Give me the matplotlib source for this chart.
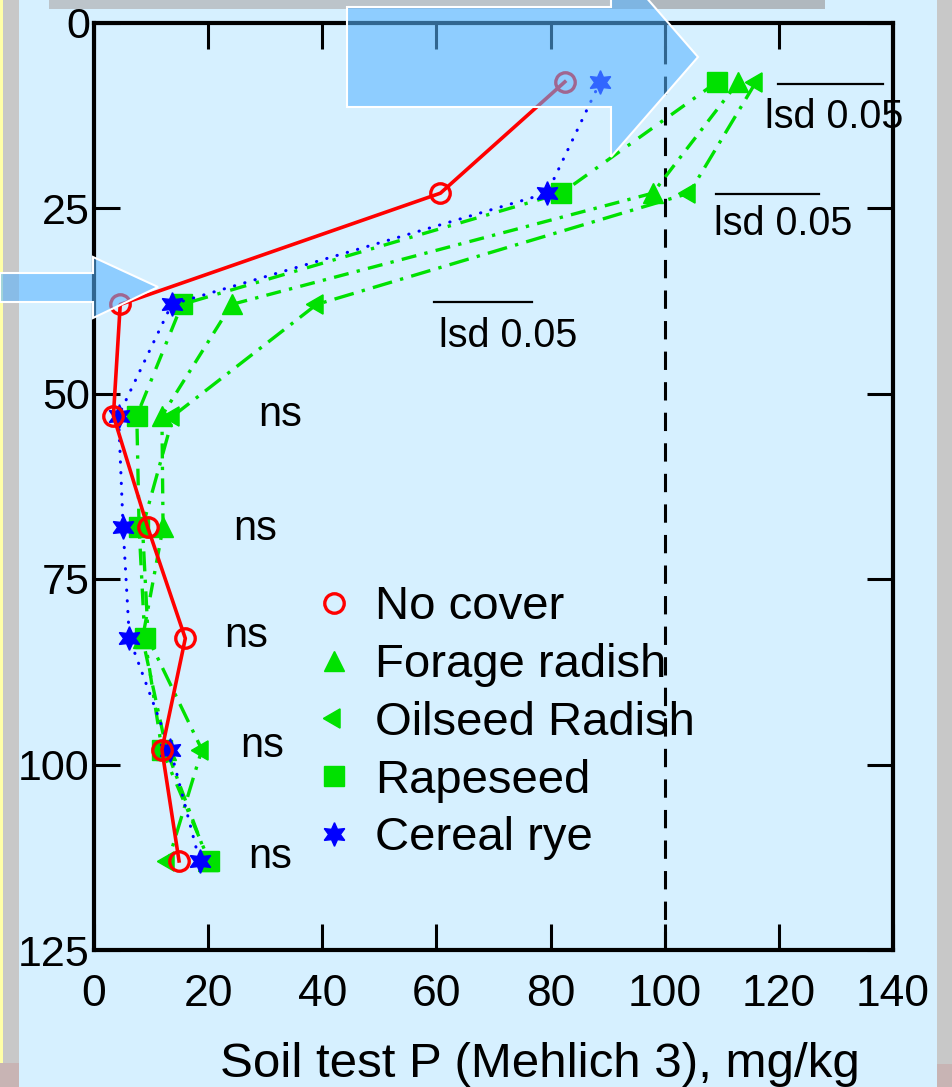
import matplotlib
matplotlib.use("Agg")
import matplotlib.pyplot as plt
from matplotlib.lines import Line2D
from matplotlib.patches import Polygon, Rectangle

# depth (cm) vs soil test P for each cover crop
depth = [8, 23, 38, 53, 68, 83, 98, 113]
no_cover = [82.5, 60.7, 4.6, 3.4, 9.4, 16.0, 11.9, 14.9]
forage_radish = [112.9, 97.9, 24.1, 11.9, 12.1, 8.5, 12.7, 20.0]
oilseed_radish = [116.0, 104.3, 39.0, 13.9, 8.5, 9.5, 18.9, 13.0]
rapeseed = [109.2, 81.9, 15.4, 7.5, 7.9, 8.9, 11.9, 20.2]
cereal_rye = [88.7, 79.4, 13.6, 4.3, 5.1, 6.2, 13.4, 18.5]

labels = ["No cover", "Forage radish", "Oilseed Radish", "Rapeseed", "Cereal rye"]

# lsd bars: (x start, x end, depth) and label positions
lsd_x0 = [119.9, 108.9, 59.5]
lsd_x1 = [138.2, 127.0, 76.7]
lsd_y = [8.3, 23.1, 37.7]
lsd_text_x = [129.7, 120.8, 72.5]
lsd_text_y = [14.2, 28.6, 43.7]

ns_x = [32.6, 28.2, 26.6, 29.4, 30.8]
ns_y = [54.4, 69.8, 84.2, 99.0, 114.0]

xticks = [0, 20, 40, 60, 80, 100, 120, 140]
yticks = [0, 25, 50, 75, 100, 125]

W, H = 952, 1087
bg = "#D6F0FF"
green = "#00E100"
plt.rcParams["font.family"] = ["Liberation Sans", "DejaVu Sans"]

fig = plt.figure(figsize=(W / 100, H / 100), dpi=100, facecolor=bg)
ax = fig.add_axes([94 / W, 1 - 950 / H, 799 / W, 927.5 / H])
ax.set_facecolor("none")


def fx(x):
    return x / W


def fy(y):
    return 1 - y / H


# slide decorations around the chart
for x0, x1, y0, y1, c in [(0, 3, 0, 1087, "#FFFFA8"), (3, 19, 0, 1087, "#C8C8C8"),
                          (0, 19, 1063, 1087, "#C8B4B4"), (937, 952, 0, 1087, "#C8C8C8"),
                          (937, 952, 1064, 1087, "#C8B4B4"),
                          (49, 610, 0, 9, "#BCC4CA"), (610, 825, 0, 9, "#B0B8BE")]:
    fig.add_artist(Rectangle((fx(x0), fy(y1)), fx(x1) - fx(x0), fy(y0) - fy(y1),
                             transform=fig.transFigure, color=c, lw=0, zorder=-1))

big_arrow = [(347, 7), (611, 7), (611, -43), (698, 57), (611, 157), (611, 107), (347, 107)]
small_arrow = [(0, 273), (93, 273), (93, 257), (158, 287), (93, 318), (93, 302), (0, 302)]
for pts in (big_arrow, small_arrow):
    fig.add_artist(Polygon([(fx(a), fy(b)) for a, b in pts], closed=True,
                           transform=fig.transFigure, facecolor=(88 / 255, 180 / 255, 1.0, 0.57),
                           edgecolor="white", lw=1.5, zorder=5))

# series
ax.plot(oilseed_radish, depth, color=green, lw=2.4, ls=(0, (6, 2.5, 1, 2.5)),
        marker=(3, 0, 90), ms=16, mec=green, mfc=green, zorder=3)
ax.plot(forage_radish, depth, color=green, lw=2.4, ls=(0, (4.5, 2.5, 1, 2.5)),
        marker="^", ms=15, mec=green, mfc=green, zorder=3)
ax.plot(rapeseed, depth, color=green, lw=2.4, ls=(0, (5, 3, 1, 3)),
        marker="s", ms=14, mec=green, mfc=green, zorder=3)
ax.plot(cereal_rye, depth, color="#0000FF", lw=2.2, ls=(0, (0.1, 3.4)),
        dash_capstyle="round", marker=(6, 1, 0), ms=17, mec="#0000FF", mfc="#0000FF", zorder=4)
ax.plot(no_cover, depth, color="#FF0000", lw=2.6, marker="o", ms=14, mfc="none",
        mec="#FF0000", mew=2.4, zorder=4)

ax.axvline(100, color="black", lw=2.2, ls=(0, (6, 4)), zorder=2)

for x0, x1, y in zip(lsd_x0, lsd_x1, lsd_y):
    ax.plot([x0, x1], [y, y], color="black", lw=1.6, zorder=3)
for x, y in zip(lsd_text_x, lsd_text_y):
    ax.text(x, y, "lsd 0.05", fontsize=28.5, ha="center", va="baseline", zorder=6)
for x, y in zip(ns_x, ns_y):
    ax.text(x, y, "ns", fontsize=30, ha="center", va="baseline")

ax.set_xlim(0, 140)
ax.set_ylim(125, 0)
ax.set_xticks(xticks)
ax.set_yticks(yticks)
ax.set_xticklabels([str(t) for t in xticks], fontsize=32)
ax.set_yticklabels([str(t) for t in yticks], fontsize=31)
ax.tick_params(direction="in", length=19, width=2.2, top=True, right=True)
ax.tick_params(axis="x", pad=17)
ax.tick_params(axis="y", pad=3)
for s in ax.spines.values():
    s.set_linewidth(3)

handles = [
    Line2D([], [], ls="none", marker="o", ms=14, mfc="none", mec="#FF0000", mew=2.4),
    Line2D([], [], ls="none", marker="^", ms=15, color=green),
    Line2D([], [], ls="none", marker=(3, 0, 90), ms=16, color=green),
    Line2D([], [], ls="none", marker="s", ms=14, color=green),
    Line2D([], [], ls="none", marker=(6, 1, 0), ms=17, color="#0000FF"),
]
ax.legend(handles, labels, loc="upper left", bbox_to_anchor=(0.271, 0.393), frameon=False,
          fontsize=34, handlelength=1.0, handletextpad=0.36, labelspacing=0.29,
          borderpad=0, borderaxespad=0)

fig.text(fx(540), fy(1077), "Soil test P (Mehlich 3), mg/kg", fontsize=35.5,
         ha="center", va="baseline")

fig.savefig("out.png", dpi=100, facecolor=bg)
